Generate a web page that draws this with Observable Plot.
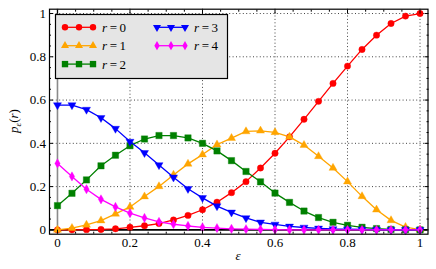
<!DOCTYPE html>
<html><head><meta charset="utf-8">
<script src="https://cdn.jsdelivr.net/npm/d3@7"></script>
<script src="https://cdn.jsdelivr.net/npm/@observablehq/plot@0.6"></script>
<style>
body{margin:0;background:#fff;}
#chart{position:relative;width:436px;height:269px;}
</style></head><body><div id="chart"></div>
<script>
// ---- data ----
const eps = [0,0.04,0.08,0.12,0.16,0.2,0.24,0.28,0.32,0.36,0.4,0.44,0.48,0.52,0.56,0.6,0.64,0.68,0.72,0.76,0.8,0.84,0.88,0.92,0.96,1];
const p_r0 = [0,0,0.001,0.002,0.005,0.012,0.019,0.029,0.046,0.067,0.093,0.128,0.172,0.223,0.286,0.354,0.430,0.511,0.594,0.677,0.757,0.834,0.900,0.954,0.988,1.0];
const p_r1 = [0,0.008,0.023,0.043,0.074,0.106,0.154,0.201,0.254,0.305,0.348,0.394,0.424,0.455,0.458,0.451,0.430,0.392,0.340,0.286,0.223,0.155,0.093,0.044,0.013,0.001];
const p_r2 = [0.112,0.169,0.231,0.296,0.345,0.389,0.420,0.436,0.436,0.425,0.400,0.365,0.320,0.270,0.222,0.170,0.127,0.087,0.057,0.035,0.021,0.012,0.006,0.002,0.001,0];
const p_r3 = [0.577,0.577,0.556,0.518,0.468,0.408,0.356,0.300,0.243,0.190,0.148,0.110,0.081,0.055,0.035,0.025,0.016,0.011,0.007,0.004,0.003,0.002,0.001,0,0,0];
const p_r4 = [0.307,0.247,0.188,0.141,0.106,0.077,0.055,0.037,0.026,0.018,0.012,0.008,0.005,0.003,0.002,0.001,0,0,0,0,0,0,0,0,0,0];
const seriesR = [0,1,2,3,4];
const seriesValues = [p_r0,p_r1,p_r2,p_r3,p_r4];
const seriesColors = ["#ff0000","#ffa500","#008000","#0000ff","#ff00ff"];
const seriesSymbols = ["circle","triangle","square","triangle","diamond"];
const seriesRotate = [0,0,0,180,0];
const seriesRadius = [3.2,3.0,3.6,3.0,2.8];
const majorTicks = [0,0.2,0.4,0.6,0.8,1];
const majorLabels = ["0","0.2","0.4","0.6","0.8","1"];
const minorTicks = [0.05,0.1,0.15,0.25,0.3,0.35,0.45,0.5,0.55,0.65,0.7,0.75,0.85,0.9,0.95];
const gridTicks = [0.2,0.4,0.6,0.8,1];

// ---- build ----
const rows = [];
seriesValues.forEach((vals,i)=>vals.forEach((v,j)=>rows.push({eps:eps[j], p:v, r:seriesR[i]})));
const labelOf = new Map(majorTicks.map((t,i)=>[t, majorLabels[i]]));
const FONT = "'Liberation Serif', 'DejaVu Serif', serif";

const marks = [
  Plot.ruleX(gridTicks, {stroke:"#444", strokeDasharray:"1,2.4", strokeWidth:1}),
  Plot.ruleY(gridTicks, {stroke:"#444", strokeDasharray:"1,2.4", strokeWidth:1}),
  Plot.ruleX([0], {stroke:"#8a8a8a", strokeWidth:1.6}),
  Plot.ruleY([0], {stroke:"#000", strokeWidth:1.6}),
];
seriesR.forEach((r,i)=>{
  const d = rows.filter(o=>o.r===r);
  marks.push(Plot.line(d, {x:"eps", y:"p", stroke:seriesColors[i], strokeWidth:1.3}));
  marks.push(Plot.dot(d, {x:"eps", y:"p", symbol:seriesSymbols[i], fill:seriesColors[i], stroke:seriesColors[i], strokeWidth:0.6, strokeOpacity:0.6, r:seriesRadius[i], rotate:seriesRotate[i]}));
});
marks.push(Plot.frame({stroke:"#000", strokeWidth:1.2}));
// inward ticks on all four sides
for (const [ticks,size] of [[majorTicks,4],[minorTicks,2]]) {
  marks.push(Plot.axisX(ticks, {anchor:"bottom", tickSize:size, dy:-size, tickFormat:()=>"", label:null}));
  marks.push(Plot.axisX(ticks, {anchor:"top", tickSize:size, dy:size, tickFormat:()=>"", label:null}));
  marks.push(Plot.axisY(ticks, {anchor:"left", tickSize:size, dx:size, tickFormat:()=>"", label:null}));
  marks.push(Plot.axisY(ticks, {anchor:"right", tickSize:size, dx:-size, tickFormat:()=>"", label:null}));
}
marks.push(Plot.axisX(majorTicks, {anchor:"bottom", tickSize:0, tickPadding:4, tickFormat:d=>labelOf.get(d), label:null, fill:"#000", fontFamily:FONT, fontSize:13}));
marks.push(Plot.axisY(majorTicks, {anchor:"left", tickSize:0, tickPadding:3.5, tickFormat:d=>labelOf.get(d), label:null, fill:"#000", fontFamily:FONT, fontSize:13}));

const plot = Plot.plot({
  width:436, height:269,
  marginLeft:49, marginRight:8.5, marginTop:8.7, marginBottom:35.3,
  x:{domain:[-0.022,1.022]},
  y:{domain:[-0.02,1.02]},
  style:{fontFamily:FONT, fontSize:"13px", background:"#fff", color:"#000"},
  marks
});
document.getElementById("chart").appendChild(plot);

// ---- legend and axis titles ----
const svg = d3.select(plot);
const g = svg.append("g").attr("text-anchor","start");
g.append("rect").attr("x",55.5).attr("y",14.5).attr("width",172).attr("height",64)
  .attr("fill","#e5e5e5").attr("stroke","#000").attr("stroke-width",1.2);
seriesR.forEach((r,i)=>{
  const col = i<3?0:1, row = i<3?i:i-3;
  const x0 = [65,157][col], y0 = 27.3 + row*18.4;
  g.append("line").attr("x1",x0).attr("x2",x0+28).attr("y1",y0).attr("y2",y0)
    .attr("stroke",seriesColors[i]).attr("stroke-width",1.3);
  const sym = d3.symbol().type({circle:d3.symbolCircle,triangle:d3.symbolTriangle,square:d3.symbolSquare,diamond:d3.symbolDiamond}[seriesSymbols[i]])
    .size(Math.PI*seriesRadius[i]*seriesRadius[i]);
  [0,14,28].forEach(dx=>g.append("path").attr("d",sym())
    .attr("transform",`translate(${x0+dx},${y0}) rotate(${seriesRotate[i]})`)
    .attr("fill",seriesColors[i]));
  const t = g.append("text").attr("x",x0+37).attr("y",y0+4.5).attr("text-anchor","start")
    .attr("font-family",FONT).attr("font-size",13).attr("fill","#000");
  t.append("tspan").attr("font-style","italic").text("r");
  t.append("tspan").text("\u2009=\u2009"+r);
});
const yl = svg.append("text").attr("transform","translate(18,121) rotate(-90)")
  .attr("text-anchor","middle").attr("font-family",FONT).attr("font-size",13).attr("fill","#000");
yl.append("tspan").attr("font-style","italic").text("p");
yl.append("tspan").attr("font-style","italic").attr("font-size",9).attr("dy",3).text("\u03b5");
yl.append("tspan").attr("dy",-3).text("(");
yl.append("tspan").attr("font-style","italic").text("r");
yl.append("tspan").text(")");
svg.append("text").attr("x",238).attr("y",260).attr("text-anchor","middle")
  .attr("font-family",FONT).attr("font-size",13).attr("font-style","italic").attr("fill","#000").text("\u03b5");
</script></body></html>
